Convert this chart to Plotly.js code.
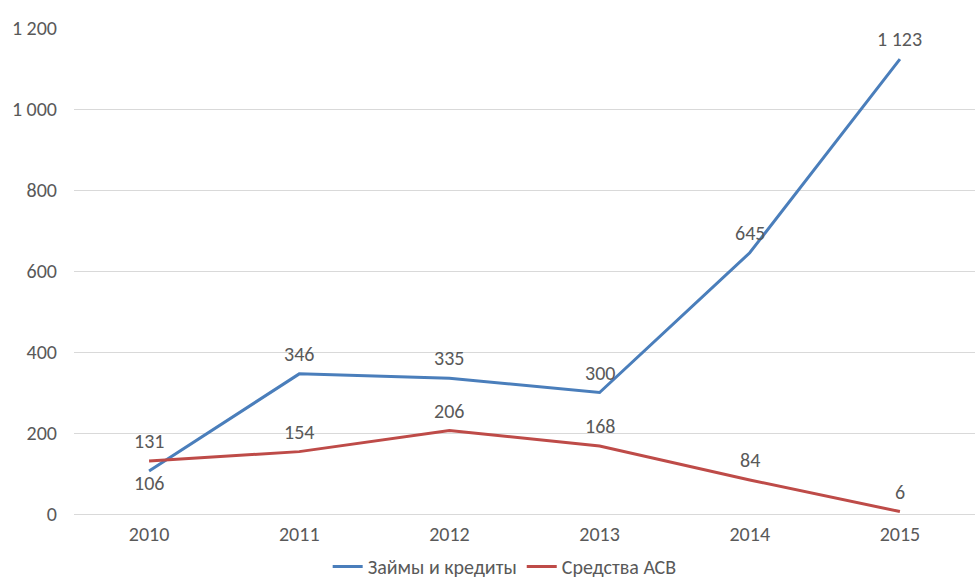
<!DOCTYPE html>
<html><head><meta charset="utf-8">
<script src="https://cdn.plot.ly/plotly-3.0.1.min.js"></script>
<style>body{margin:0;background:#fff}#c{width:975px;height:586px}</style>
</head><body><div id="c"></div>
<script>
const years = ['2010','2011','2012','2013','2014','2015'];
const loans = [106, 346, 335, 300, 645, 1123];
const asv = [131, 154, 206, 168, 84, 6];
const loansName = 'Займы и кредиты';
const asvName = 'Средства АСВ';
const yTicks = [0, 200, 400, 600, 800, 1000, 1200];

const font = 'Carlito, Calibri, Lato, sans-serif';
const gray = '#595959';
const fs = 20;
const traces = [
  {x: years, y: loans, name: loansName, type: 'scatter', mode: 'lines',
   line: {color: '#4A7EBB', width: 3}},
  {x: years, y: asv, name: asvName, type: 'scatter', mode: 'lines',
   line: {color: '#BE4B48', width: 3}}
];
const fmt = v => String(v).replace(/\B(?=(\d{3})+(?!\d))/g, ' ');
const annotations = [];
loans.forEach((v, i) => annotations.push({x: i, y: v, xref: 'x', yref: 'y', text: fmt(v), showarrow: false,
  yshift: i === 0 ? -12 : 20, font: {size: fs, color: gray, family: font}}));
asv.forEach((v, i) => annotations.push({x: i, y: v, xref: 'x', yref: 'y', text: fmt(v), showarrow: false,
  yshift: 20, font: {size: fs, color: gray, family: font}}));

const layout = {
  width: 975, height: 586,
  margin: {l: 74, r: 0, t: 28, b: 72},
  separators: '. ',
  font: {family: font, size: fs, color: gray},
  paper_bgcolor: '#fff', plot_bgcolor: '#fff',
  annotations: annotations,
  xaxis: {type: 'category', range: [-0.5, 5.5], showgrid: false, zeroline: false,
    showline: false, ticks: '', ticklabelstandoff: 6, tickfont: {size: fs, color: gray}},
  yaxis: {range: [0, 1200], tickvals: yTicks, tickformat: ',d', showgrid: true,
    gridcolor: '#D9D9D9', gridwidth: 1, zeroline: true, zerolinecolor: '#D9D9D9',
    zerolinewidth: 1, showline: false, ticks: '', ticklabelstandoff: 16,
    tickfont: {size: fs, color: gray}},
  showlegend: true,
  legend: {orientation: 'h', x: 0.478, xanchor: 'center', xref: 'paper',
    yref: 'container', y: -0.03, yanchor: 'bottom',
    font: {size: fs, color: gray}, itemwidth: 30, traceorder: 'normal'}
};
Plotly.newPlot('c', traces, layout, {displayModeBar: false, staticPlot: true});
</script></body></html>
